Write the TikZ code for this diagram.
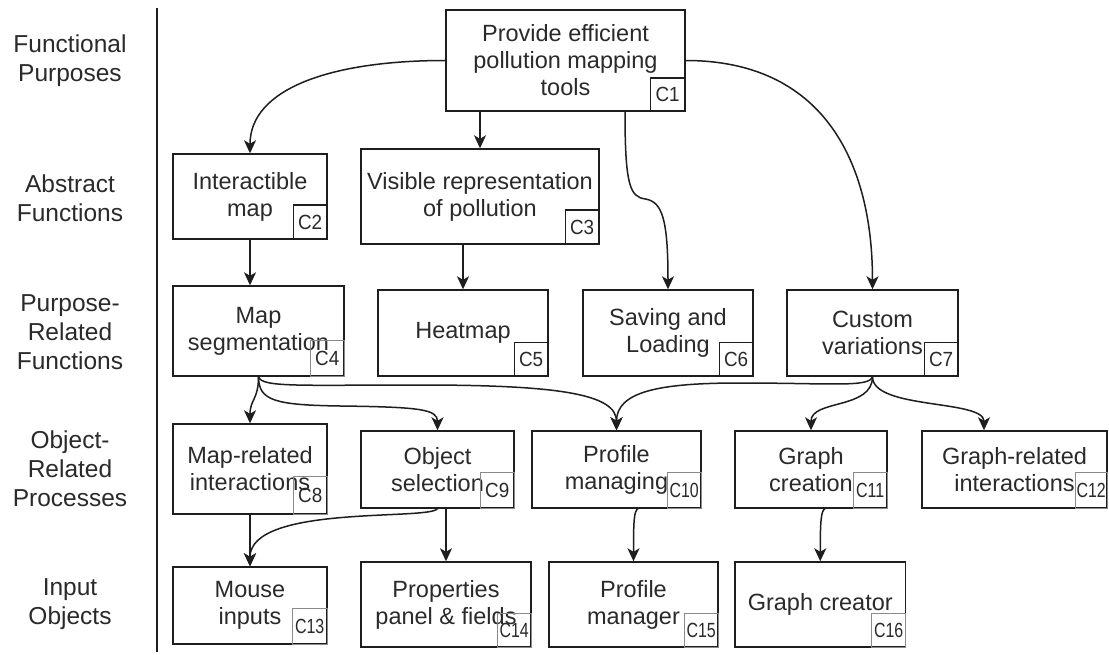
\documentclass[tikz,border=0pt]{standalone}
\usepackage{fontspec}
\usepackage{graphicx}
\setmainfont{Liberation Sans}
\usetikzlibrary{arrows.meta}

\definecolor{ink}{HTML}{1E1E1E}
\definecolor{txt}{HTML}{2A2A2A}
\definecolor{faint}{HTML}{8A8A8A}

\tikzset{
  box/.style={draw=ink, line width=1.4pt, fill=white, inner sep=0pt,
    align=center, text=txt, font=\fontsize{23.5}{27}\selectfont},
  tag/.style={draw=ink, line width=1.2pt, inner sep=0pt, anchor=south east,
    minimum width=34pt, minimum height=34pt, text=txt,
    font=\fontsize{20.5}{22}\selectfont},
  lighttag/.style={tag, draw=faint, line width=1pt},
  level/.style={align=center, text=txt, inner sep=0pt,
    font=\fontsize{24.5}{29}\selectfont},
  link/.style={draw=ink, line width=1.5pt,
    -{Stealth[length=13pt,width=12pt,inset=3.5pt]}},
}
\newcommand{\idtwo}[1]{\scalebox{0.92}[1]{#1}}
\newcommand{\idthree}[1]{\scalebox{0.78}[1]{#1}}

\begin{document}
\begin{tikzpicture}[x=1pt,y=-1pt]
\useasboundingbox (0,0) rectangle (1109,655);
\fill[white] (0,0) rectangle (1109,655);

% abstraction levels
\node[level] (l1) at (70,60.5)  {Functional\\Purposes};
\node[level] (l2) at (70,198)   {Abstract\\Functions};
\node[level] (l3) at (70,332)   {Purpose-\\Related\\Functions};
\node[level] (l4) at (70,469)   {Object-\\Related\\Processes};
\node[level] (l5) at (70,604)   {Input\\Objects};
\coordinate (sepTop) at (157,8);
\coordinate (sepBot) at (157,652);
\draw[ink, line width=1.6pt] (sepTop) -- (sepBot);

% components
\node[box, minimum width=239pt, minimum height=101pt] (c1) at (565.5,60.5)
  {Provide efficient\\pollution mapping\\tools};
\node[box, minimum width=154pt, minimum height=85pt] (c2) at (250,196.5)
  {Interactible\\map};
\node[box, minimum width=238pt, minimum height=95pt] (c3) at (480,196.5)
  {Visible representation\\of pollution};
\node[box, minimum width=171pt, minimum height=90pt] (c4) at (258.5,331)
  {Map\\segmentation};
\node[box, minimum width=170pt, minimum height=86pt] (c5) at (463,333)
  {Heatmap};
\node[box, minimum width=170pt, minimum height=86pt] (c6) at (668,333)
  {Saving and\\Loading};
\node[box, minimum width=171pt, minimum height=86pt] (c7) at (872.5,333)
  {Custom\\variations};
\node[box, minimum width=154pt, minimum height=90pt] (c8) at (250,469)
  {Map-related\\interactions};
\node[box, minimum width=153pt, minimum height=77pt] (c9) at (437.5,469.5)
  {Object\\selection};
\node[box, minimum width=169pt, minimum height=77pt] (c10) at (616.5,469.5)
  {Profile\\managing};
\node[box, minimum width=152pt, minimum height=77pt] (c11) at (811,469.5)
  {Graph\\creation};
\node[box, minimum width=185pt, minimum height=77pt] (c12) at (1014.5,469.5)
  {Graph-related\\interactions};
\node[box, minimum width=154pt, minimum height=77pt] (c13) at (250,605.5)
  {Mouse\\inputs};
\node[box, minimum width=170pt, minimum height=85pt] (c14) at (446,604.5)
  {Properties\\panel \& fields};
\node[box, minimum width=169pt, minimum height=85pt] (c15) at (633.5,604.5)
  {Profile\\manager};
\node[box, minimum width=170.5pt, minimum height=85pt] (c16) at (820.25,604.5)
  {Graph creator};

% component identifiers
\node[tag, minimum width=35pt, minimum height=33pt] (t1) at (c1.south east) {\idtwo{C1}};
\node[tag] (t2) at (c2.south east) {\idtwo{C2}};
\node[tag] (t3) at (c3.south east) {\idtwo{C3}};
\node[lighttag, minimum height=36pt] (t4) at (c4.south east) {\idtwo{C4}};
\node[tag] (t5) at (c5.south east) {\idtwo{C5}};
\node[tag] (t6) at (c6.south east) {\idtwo{C6}};
\node[tag] (t7) at (c7.south east) {\idtwo{C7}};
\node[lighttag, minimum height=38pt] (t8) at (c8.south east) {\idtwo{C8}};
\node[lighttag, minimum height=36pt] (t9) at (c9.south east) {\idtwo{C9}};
\node[lighttag, minimum height=36pt] (t10) at (c10.south east) {\idthree{C10}};
\node[lighttag, minimum height=36pt] (t11) at (c11.south east) {\idthree{C11}};
\node[lighttag, minimum width=32pt, minimum height=36pt] (t12) at (c12.south east) {\idthree{C12}};
\node[lighttag, minimum width=35pt, minimum height=36pt] (t13) at (c13.south east) {\idthree{C13}};
\node[lighttag] (t14) at (c14.south east) {\idthree{C14}};
\node[lighttag] (t15) at (c15.south east) {\idthree{C15}};
\node[lighttag] (t16) at (c16.south east) {\idthree{C16}};

% functional purpose -> abstract functions / purpose-related functions
\draw[link] (c1.west) .. controls +(-116,0) and +(0,-64) .. (c2.north);
\draw[link] (c1.south -| c3.north) -- (c3.north);
\draw[link] ([xshift=59.5pt]c1.south) .. controls +(0,74) and (630,197) .. (645.5,199)
  .. controls (662,202) and +(0,-71) .. (c6.north);
\draw[link] (c1.east) .. controls +(135,0) and +(0,-131) .. (c7.north);

% abstract functions -> purpose-related functions
\draw[link] (c2.south) -- (c2.south |- c4.north);
\draw[link] (c3.south -| c5.north) -- (c5.north);

% purpose-related functions -> object-related processes
\draw[link] (c4.south) .. controls +(0,23) and +(0,-24) .. (c8.north);
\draw[link] (c4.south) .. controls +(0,24) and (275,405) .. (340,406)
  .. controls (420,407) and +(0,-21) .. (c9.north);
\draw[link] (c4.south) .. controls +(3,11) and (300,385) .. (420,385)
  .. controls (560,385) and +(0,-36) .. (c10.north);
\draw[link] (c7.south) .. controls +(-3,11) and (830,383) .. (740,383)
  .. controls (660,383) and +(0,-39) .. (c10.north);
\draw[link] (c7.south) .. controls +(0,33) and +(0,-31) .. (c11.north);
\draw[link] (c7.south) .. controls +(0,33) and +(0,-31) .. ([xshift=-30.5pt]c12.north);

% object-related processes -> input objects
\draw[link] (c8.south) -- (c13.north);
\draw[link] (c9.south) .. controls +(-9,12) and +(0,-62) .. (c13.north);
\draw[link] (c9.south -| c14.north) -- (c14.north);
\draw[link] ([xshift=21.5pt]c10.south) .. controls +(-4,2) and +(0,-40) .. (c15.north);
\draw[link] ([xshift=14pt]c11.south) .. controls +(-4,2) and +(0,-40) .. (c16.north);
\end{tikzpicture}
\end{document}
